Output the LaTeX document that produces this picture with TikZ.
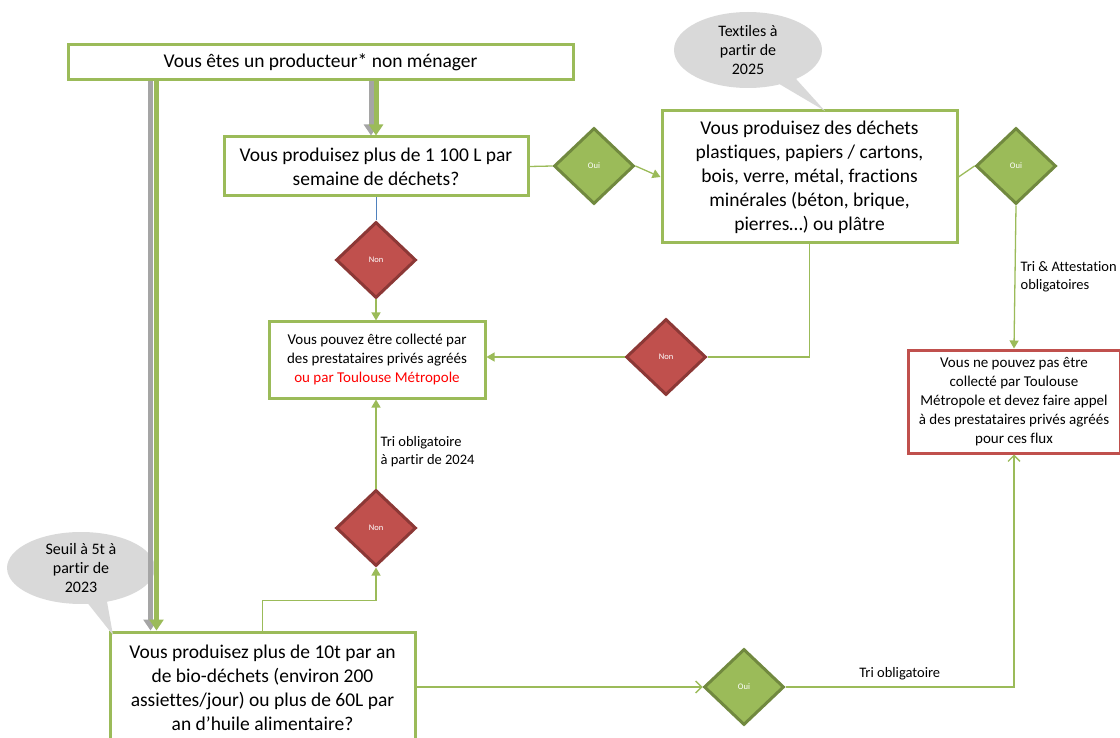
\documentclass[tikz,border=0pt]{standalone}
\usepackage{fontspec}
\setmainfont{Carlito}[Ligatures=NoCommon]
\usetikzlibrary{shapes.geometric,shapes.callouts,arrows.meta}
\definecolor{boxgreen}{HTML}{9BBB59}
\definecolor{ouiedge}{HTML}{71893F}
\definecolor{nonfill}{HTML}{C0504D}
\definecolor{nonedge}{HTML}{8C3836}
\definecolor{bubblegray}{HTML}{D9D9D9}
\definecolor{shadowgray}{HTML}{A5A5A5}
\definecolor{linkblue}{HTML}{4F81BD}

\tikzset{
  box/.style={draw=boxgreen, line width=3pt, align=center, inner sep=0pt},
  bigtext/.style={font=\fontsize{19.5}{24}\selectfont},
  smalltext/.style={font=\fontsize{15}{19}\selectfont},
  ouidiam/.style={diamond, draw=ouiedge, fill=boxgreen, line width=3pt,
    minimum width=80pt, minimum height=76pt, inner sep=0pt, text=white,
    font=\fontsize{8.5}{9}\selectfont},
  nondiam/.style={ouidiam, draw=nonedge, fill=nonfill},
  link/.style={draw=boxgreen, line width=1.3pt},
  tip/.style={-{Triangle[width=9pt,length=8pt]}},
  opentip/.style={-{Straight Barb[width=12pt,length=6pt,line width=1.3pt]}},
  fat/.style={line width=5pt, -{Triangle[width=14pt,length=11pt]}},
  lbl/.style={font=\fontsize{14.5}{18}\selectfont, align=left, inner sep=0pt},
  bubble/.style={ellipse callout, fill=bubblegray, align=center, inner sep=0pt,
    font=\fontsize{16}{19}\selectfont}
}

\begin{document}
\begin{tikzpicture}[x=1pt, y=-1pt]
\useasboundingbox (0,0) rectangle (1120,738);
% Boxes
    \node[box, bigtext, minimum width=505pt, minimum height=35pt] (prod) at (320.5,62.5)
        {Vous êtes un producteur* non ménager};
    \node[box, bigtext, minimum width=304pt, minimum height=59pt] (volume) at (376,166.5)
        {Vous produisez plus de 1 100 L par\\semaine de déchets?};
    \node[box, bigtext, minimum width=295pt, minimum height=132pt] (flux) at (809.5,177)
        {Vous produisez des déchets\\plastiques, papiers / cartons,\\bois, verre, métal, fractions\\minérales (béton, brique,\\pierres…) ou plâtre};
    \node[box, smalltext, minimum width=216pt, minimum height=76pt] (collect) at (377,360)
        {Vous pouvez être collecté par\\des prestataires privés agréés\\\textcolor{red}{ou par Toulouse Métropole}};
    \node[box, smalltext, draw=nonfill, minimum width=212pt, minimum height=103pt] (prive) at (1014,401.5)
        {Vous ne pouvez pas être\\collecté par Toulouse\\Métropole et devez faire appel\\à des prestataires privés agréés\\pour ces flux};
    \node[box, bigtext, minimum width=305pt, minimum height=112pt] (bio) at (262.5,688)
        {Vous produisez plus de 10t par an\\de bio-déchets (environ 200\\assiettes/jour) ou plus de 60L par\\an d’huile alimentaire?};
% Diamonds
    \node[ouidiam] (oui1) at (594,166) {Oui};
    \node[ouidiam] (oui2) at (1016,166) {Oui};
    \node[ouidiam] (oui3) at (744,687) {Oui};
    \node[nondiam] (non1) at (376,260) {Non};
    \node[nondiam] (non2) at (666,357) {Non};
    \node[nondiam] (non3) at (376,528) {Non};
% Bubbles
    \node[bubble, minimum width=148pt, minimum height=76pt,
        callout absolute pointer={(825,111)}] (textile) at (748,50)
        {Textiles à\\partir de\\2025};
    \node[bubble, minimum width=148pt, minimum height=72pt,
        callout absolute pointer={(113,635)}] (seuil) at (81,568)
        {Seuil à 5t à\\partir de\\2023};
% Thick arrows
    \draw[fat, shadowgray] ([xshift=84pt]prod.south west) -- ([xshift=84pt]prod.south west |- bio.north);
    \draw[fat, boxgreen] ([xshift=90pt]prod.south west) -- ([xshift=90pt]prod.south west |- bio.north);
    \draw[fat, shadowgray] ([xshift=-5pt]volume.north |- prod.south) -- ([xshift=-5pt]volume.north);
    \draw[fat, boxgreen] (volume.north |- prod.south) -- (volume.north);
% Connectors
    \draw[link] (volume.east) -- (oui1.west);
    \draw[link, tip] (oui1.east) -- (flux.west);
    \draw[link] (flux.east) -- (oui2.west);
    \draw[link, tip] (oui2.south) -- node[lbl, right, pos=0.5, xshift=5pt] (lblattest) {Tri \& Attestation\\obligatoires} (prive.north);
    \draw[linkblue, line width=1pt] (volume.south) -- (non1.north);
    \draw[link, tip] (non1.south) -- (non1.south |- collect.north);
    \draw[link] (flux.south) |- (non2.east);
    \draw[link, tip] (non2.west) -- (non2.west -| collect.east);
    \draw[link, tip] (non3.north) -- node[lbl, right, pos=0.41, xshift=4pt] (lbl2024) {Tri obligatoire\\à partir de 2024} (non3.north |- collect.south);
    \draw[link, tip] (bio.north) |- ([yshift=-33pt]non3.south) -- (non3.south);
    \draw[link, opentip] (oui3.west -| bio.east) -- (oui3.west);
    \draw[link, opentip] (oui3.east) -| node[lbl, above, pos=0.25, yshift=6pt] (lbltri) {Tri obligatoire} (prive.south);
\end{tikzpicture}
\end{document}
